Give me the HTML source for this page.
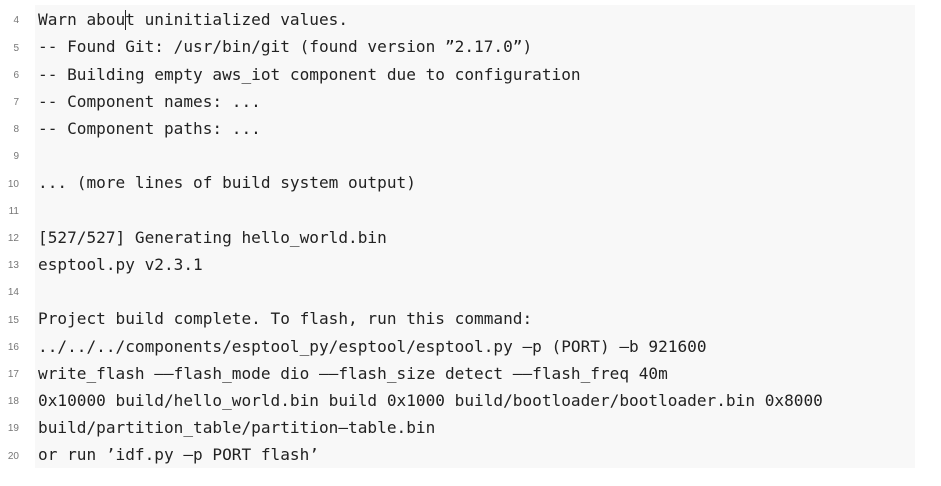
<!DOCTYPE html>
<html><head><meta charset="utf-8"><style>
html,body{margin:0;padding:0;background:#fff;width:941px;height:486px;overflow:hidden}
.bg{position:absolute;left:35px;top:5px;width:880px;height:463px;background:#f8f8f8}
.ln{position:absolute;left:0;top:7.4px;width:19px;text-align:right;font:10px/27.2px "Liberation Sans",sans-serif;color:#777;white-space:pre}
.code{position:absolute;left:38px;top:6.2px;font:16.1px/27.2px "DejaVu Sans Mono",monospace;color:#222;white-space:pre}
.cur{position:absolute;left:125px;top:10px;width:1px;height:20px;background:#222}
</style></head><body>
<div class="bg"></div>
<div class="ln">4
5
6
7
8
9
10
11
12
13
14
15
16
17
18
19
20</div>
<div class="code">Warn about uninitialized values.
-- Found Git: /usr/bin/git (found version ”2.17.0”)
-- Building empty aws_iot component due to configuration
-- Component names: ...
-- Component paths: ...

... (more lines of build system output)

[527/527] Generating hello_world.bin
esptool.py v2.3.1

Project build complete. To flash, run this command:
../../../components/esptool_py/esptool/esptool.py –p (PORT) –b 921600
write_flash ––flash_mode dio ––flash_size detect ––flash_freq 40m
0x10000 build/hello_world.bin build 0x1000 build/bootloader/bootloader.bin 0x8000
build/partition_table/partition–table.bin
or run ’idf.py –p PORT flash’</div>
<div class="cur"></div>
</body></html>
